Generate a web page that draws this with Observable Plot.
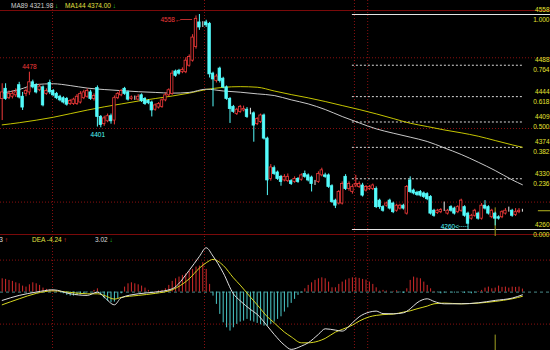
<!DOCTYPE html>
<html><head><meta charset="utf-8">
<script src="https://cdn.jsdelivr.net/npm/d3@7"></script>
<script src="https://cdn.jsdelivr.net/npm/@observablehq/plot@0.6"></script>
<style>
html,body{margin:0;padding:0;background:#000;}
#wrap{position:relative;width:550px;height:350px;overflow:hidden;background:#000;font-family:"Liberation Sans",Arial,sans-serif;}
.pane{position:absolute;left:0;}
.sep{position:absolute;left:0;width:550px;height:1px;background:#7a0a0a;}
.hdr{position:absolute;font-size:6.5px;line-height:1;white-space:nowrap;}
</style></head><body><div id="wrap">
<div class="sep" style="top:10px"></div>
<div class="sep" style="top:234px"></div>
<div id="p1" class="pane" style="top:0"></div>
<div id="p2" class="pane" style="top:236px"></div>
</div>
<script>
// ---------- data ----------
const opens = [4441,4455,4442,4444,4446,4460,4444,4448,4450,4464,
4460,4453,4457,4448,4463,4452,4448,4444,4442,4441,
4434,4434,4434,4436,4442,4444,4450,4441,4456,4416,
4406,4410,4417,4411,4442,4446,4455,4450,4441,4442,
4440,4446,4441,4438,4436,4426,4429,4430,4439,4446,
4448,4479,4480,4478,4478,4487,4494,4513,4547,4544,
4547,4545,4476,4466,4483,4469,4457,4441,4430,4420,
4423,4425,4426,4422,4421,4406,4409,4418,4386,4330,
4345,4339,4333,4328,4327,4327,4326,4330,4329,4337,
4335,4332,4324,4326,4335,4335,4335,4320,4300,4296,
4296,4333,4316,4312,4321,4319,4321,4314,4316,4316,
4316,4300,4291,4293,4300,4296,4286,4289,4293,4282,
4328,4314,4311,4312,4310,4309,4305,4286,4283,4284,
4287,4282,4291,4289,4284,4286,4291,4282,4275,4279,
4282,4275,4293,4291,4277,4282,4277,4277,4282,4286,
4286,4280,4284,4286];
const closes = [4450,4441,4448,4448,4450,4443,4429,4452,4464,4457,
4450,4458,4432,4452,4450,4446,4442,4439,4436,4433,
4438,4440,4444,4448,4450,4452,4441,4445,4416,4405,
4414,4417,4410,4442,4448,4452,4448,4440,4443,4442,
4444,4438,4434,4435,4425,4432,4434,4439,4446,4453,
4476,4473,4476,4481,4494,4499,4526,4552,4540,4544,
4543,4475,4468,4472,4466,4457,4441,4427,4423,4426,
4430,4427,4416,4422,4404,4413,4418,4386,4328,4346,
4337,4330,4326,4333,4333,4323,4330,4326,4335,4333,
4328,4323,4324,4337,4342,4333,4319,4298,4293,4312,
4323,4316,4323,4319,4323,4323,4307,4319,4319,4321,
4291,4291,4286,4296,4289,4284,4293,4293,4289,4319,
4312,4310,4308,4307,4305,4302,4282,4279,4286,4287,
4287,4286,4286,4282,4291,4300,4279,4268,4279,4286,
4275,4293,4289,4282,4286,4275,4275,4284,4286,4286,
4279,4284,4286,4286];
const highs = [4462,4462,4452,4452,4455,4464,4450,4455,4478,4467,
4462,4461,4459,4455,4467,4454,4450,4446,4444,4443,
4440,4442,4447,4451,4453,4455,4453,4448,4459,4418,
4417,4420,4420,4445,4450,4454,4457,4452,4445,4445,
4447,4448,4443,4440,4438,4434,4436,4441,4449,4455,
4480,4481,4482,4484,4498,4502,4530,4556,4558,4548,
4550,4547,4478,4475,4485,4471,4459,4443,4432,4428,
4432,4431,4429,4428,4423,4415,4420,4420,4388,4350,
4348,4341,4335,4336,4337,4329,4333,4332,4337,4341,
4337,4334,4328,4340,4345,4338,4337,4322,4302,4314,
4326,4336,4326,4322,4335,4326,4324,4321,4321,4323,
4319,4302,4293,4298,4302,4298,4295,4295,4295,4321,
4333,4316,4313,4314,4312,4311,4307,4288,4288,4289,
4298,4288,4293,4291,4293,4302,4293,4284,4281,4288,
4284,4296,4300,4293,4288,4284,4279,4286,4289,4291,
4288,4289,4289,4288];
const lows = [4411,4439,4440,4441,4443,4441,4425,4444,4446,4455,
4448,4451,4430,4446,4447,4444,4440,4437,4434,4431,
4432,4432,4432,4434,4440,4442,4439,4438,4402,4401,
4403,4408,4406,4405,4440,4444,4446,4438,4439,4439,
4438,4436,4432,4433,4416,4424,4427,4428,4437,4444,
4446,4471,4474,4476,4476,4485,4492,4510,4536,4540,
4540,4470,4430,4463,4463,4455,4439,4407,4421,4418,
4421,4423,4414,4419,4381,4404,4407,4384,4307,4327,
4335,4328,4320,4326,4325,4321,4324,4324,4327,4331,
4326,4312,4321,4324,4333,4331,4317,4296,4289,4294,
4294,4314,4313,4309,4318,4317,4305,4312,4314,4314,
4289,4288,4284,4291,4287,4282,4284,4287,4287,4280,
4310,4308,4306,4305,4303,4300,4280,4277,4281,4282,
4285,4280,4284,4280,4282,4284,4277,4260,4273,4277,
4273,4273,4287,4280,4275,4265,4273,4275,4280,4284,
4277,4278,4282,4284];

// moving averages, read at every 5th candle
const maIdx = [0,5,10,15,20,25,30,35,40,45,50,55,60,65,70,75,80,85,90,95,100,105,110,115,120,125,130,135,140,145,150,153];
const ma89 = [4449,4454,4461,4462,4459.5,4456,4454,4452.5,4451,4450,4449,4450,4454.5,4452,4450.3,4448,4445.7,4439.7,4434.1,4426.3,4416.6,4407.8,4399.5,4393.5,4388,4382,4373.2,4364,4353.3,4341.7,4328.8,4322];
const ma144 = [4405,4408,4411.5,4415.5,4420.5,4425.5,4430,4434,4438,4441.5,4445,4449,4454,4457,4458,4457.2,4452,4447,4442.5,4437.4,4431.8,4426.3,4420.3,4413.8,4407.3,4402.7,4398,4394,4389.3,4383.3,4377.3,4374];

// MACD
const macdIdx = [0,5,10,15,20,25,28,30,33,35,40,45,50,55,58,60,62,65,68,70,73,75,78,80,83,85,88,90,93,95,98,100,103,105,108,110,112,115,118,120,122,125,127,130,135,140,145,150,153];
const dif = [-8.3,-3.3,0,2.3,-1.7,-3.3,0,-5,-12.7,-5.7,-1.7,0,3.3,21.7,35.7,44.3,36,19.3,-1.7,-8.7,-17.3,-22.3,-34,-42.3,-53,-57.3,-54,-50.7,-42.3,-36.7,-38,-39,-30.7,-24.7,-20,-19,-21.5,-21.7,-20.7,-16.7,-10.7,-6.7,-9.3,-11.7,-11.7,-10.7,-8.3,-6,-2.73];
const dea = [-12.7,-6.7,-1.3,1.3,-0.3,-1.7,-1.7,-3.3,-7,-5.3,-3.3,-1.3,2.3,13.3,24,29.3,32.7,26.7,14.3,7,-5,-12.7,-24.7,-30.7,-40,-44.7,-50.7,-50.7,-49,-46.3,-40,-37.3,-33,-29,-24.7,-23.3,-22.5,-22,-20,-18.7,-16.7,-14,-11.7,-11,-11.7,-11,-9.3,-6.7,-4.24];
const macdBars = [13.3,12.7,11.7,10.7,9.3,8.3,6,5,7.3,9.3,
8.3,6.7,4,2.7,2.3,1.7,1,0,-1.7,-3.3,
-4,-4,-3.3,-2.7,-1.7,-0.7,0,1.7,3.3,-3.3,
-6.7,-9.3,-10.7,-10,-6.7,-1.7,5,8.3,9.3,8.3,
7.3,6,4,1.7,0,0.7,1.3,1.7,3.3,6.7,
10.7,13.3,15,16.7,18.3,20.7,22.7,25,26,29.3,
22.7,7.7,-4,-12.3,-22.3,-30.7,-35.7,-39,-35.7,-32.3,
-30,-29,-27.3,-29,-30,-31.3,-32.7,-34,-34,-32.3,
-30,-27.3,-24.7,-20,-15.7,-11.3,-7.3,-3.3,-0.7,3.3,
6.7,9.3,11.7,13.3,14.3,13.3,10,4.3,4.3,7.7,
10,12,13.3,14.3,14.3,13.7,12.7,12,10,7.7,
4.3,1,1.7,1,0,0.7,1.3,-0.7,-1.3,3.3,
11.7,15,14,13.3,10,6.7,3.3,0.7,-0.7,-1.7,
-1,0,-0.7,-1,0,-0.3,-1.3,-0.7,-1.7,-0.7,
0.7,1.7,4,5,3.3,4,6,4.7,5,4,
5,4.7,5,3.02];

const fibRatios = [1, 0.764, 0.618, 0.5, 0.382, 0.236, 0];
const gridPrices = [4498, 4400, 4298];
const macdGrid = [32, -32];
const periodBreaks = [14.8, 59.5, 103.6, 107.5];
const fibStart = 103, fibEnd = 153.5;
const cursorIdx = 145;
const localMarks = [{i: 8, kind: "high"}, {i: 29, kind: "low"}];
const headerMA = [{name: "MA89", value: "4321.98", arrow: "↓"}, {name: "MA144", value: "4374.00", arrow: "↓"}];
const headerMACD = [{name: "DIF", value: "-2.73", arrow: "↑"}, {name: "DEA", value: "-4.24", arrow: "↑"}, {name: "", value: "3.02", arrow: "↓"}];

// ---------- style ----------
const UP = "#f03a3a", DN = "#54fcfc", FLAT = "#e8e8e8", GRID = "#8a1010";
const FIBC = "#e4e430", FONT = "Liberation Sans, Arial, sans-serif";
const STEP = 3.4;
const xDomain = [-0.5, -0.5 + 550 / STEP];

const candles = opens.map((o, i) => ({i, o, c: closes[i], h: highs[i], l: lows[i]}));
const colorOf = d => d.c > d.o ? UP : d.c < d.o ? DN : FLAT;
const hiIdx = d3.maxIndex(highs), loIdx = d3.minIndex(lows);
const fibHigh = highs[hiIdx], fibLow = lows[loIdx];
const fibs = fibRatios.map(r => ({r, p: fibLow + r * (fibHigh - fibLow)}));
const ma89Pts = maIdx.map((i, k) => ({i, v: ma89[k]}));
const ma144Pts = maIdx.map((i, k) => ({i, v: ma144[k]}));
const lastClose = closes[closes.length - 1];

const price = Plot.plot({
  width: 550, height: 236, margin: 0,
  x: {domain: xDomain, axis: null},
  y: {domain: [4250.3, 4577.4], axis: null},
  style: {background: "transparent", overflow: "visible"},
  marks: [
    Plot.ruleY(gridPrices, {stroke: GRID, strokeDasharray: "1,2"}),
    Plot.ruleX(periodBreaks, {stroke: GRID, strokeDasharray: "1,2"}),
    Plot.ruleY(fibs.filter(f => f.r > 0 && f.r < 1), {y: "p", x1: fibStart, x2: fibEnd, stroke: "#d8d8d8", strokeDasharray: "2,2"}),
    Plot.ruleY(fibs.filter(f => f.r === 0 || f.r === 1), {y: "p", x1: fibStart, x2: xDomain[1], stroke: "#e4e4e4", strokeWidth: 1.2}),
    Plot.ruleY([lastClose], {x1: 157.7, x2: xDomain[1], stroke: "#b8b820"}),
    Plot.ruleX([cursorIdx], {y1: 4290, y2: 4250.3, stroke: "#a0a020"}),
    Plot.line(ma144Pts, {x: "i", y: "v", stroke: "#c4c400", strokeWidth: 1, curve: "monotone-x"}),
    Plot.line(ma89Pts, {x: "i", y: "v", stroke: "#c8c8c8", strokeWidth: 1, curve: "monotone-x"}),
    Plot.ruleX(candles, {x: "i", y1: "l", y2: "h", stroke: colorOf, strokeWidth: 1}),
    Plot.rect(candles, {x1: d => d.i - 0.36, x2: d => d.i + 0.36, y1: d => Math.min(d.o, d.c), y2: d => Math.max(d.o, d.c),
      fill: d => d.c > d.o ? "#000" : colorOf(d), stroke: colorOf, strokeWidth: 0.8}),
    Plot.text(localMarks.filter(m => m.kind === "high"), {x: "i", y: m => highs[m.i], text: m => String(highs[m.i]), fill: UP, dy: -5, fontSize: 6.5, fontFamily: FONT}),
    Plot.text(localMarks.filter(m => m.kind === "low"), {x: "i", y: m => lows[m.i], text: m => String(lows[m.i]), fill: DN, dy: 7, dx: -3, fontSize: 6.5, fontFamily: FONT}),
    Plot.text([hiIdx], {x: d => d, y: d => highs[d], text: d => highs[d] + "←", fill: UP, textAnchor: "end", dx: -18, dy: 5, fontSize: 6.5, fontFamily: FONT}),
    Plot.ruleY([hiIdx], {y: d => highs[d], x1: d => d - 5.5, x2: d => d - 2, dy: 5, stroke: UP, strokeWidth: 0.8}),
    Plot.text([loIdx], {x: d => d, y: d => lows[d], text: d => lows[d] + "<", fill: DN, textAnchor: "end", dx: -9, dy: -3, fontSize: 6.5, fontFamily: FONT}),
    Plot.ruleY([loIdx], {y: d => lows[d], x1: d => d - 2.6, x2: d => d, dy: -3, stroke: DN, strokeWidth: 0.8, strokeDasharray: "1,1"}),
    Plot.text(fibs, {y: "p", text: f => f.p.toFixed(0), frameAnchor: "right", textAnchor: "end", dx: -1, dy: -5, fill: FIBC, fontSize: 6.5, fontFamily: FONT}),
    Plot.text(fibs, {y: "p", text: f => f.r.toFixed(3), frameAnchor: "right", textAnchor: "end", dx: -1, dy: 5, fill: FIBC, fontSize: 6.5, fontFamily: FONT})
  ]
});
document.getElementById("p1").appendChild(price);

const bars = macdBars.map((v, i) => ({i, v}));
const difPts = macdIdx.map((i, k) => ({i, v: dif[k]}));
const deaPts = macdIdx.map((i, k) => ({i, v: dea[k]}));
const macd = Plot.plot({
  width: 550, height: 114, margin: 0,
  x: {domain: xDomain, axis: null},
  y: {domain: [-58.4, 55.6], axis: null},
  style: {background: "transparent", overflow: "visible"},
  marks: [
    Plot.ruleY(macdGrid, {stroke: GRID, strokeDasharray: "1,2"}),
    Plot.ruleX(periodBreaks, {stroke: GRID, strokeDasharray: "1,2"}),
    Plot.ruleY([0], {stroke: "#4a8a8a", strokeDasharray: "3,3"}),
    Plot.ruleX([cursorIdx], {y1: -43, y2: -58.4, stroke: "#a0a020"}),
    Plot.ruleX(bars.filter(b => b.v !== 0), {x: "i", y1: 0, y2: "v", stroke: b => b.v > 0 ? "#d42a2a" : "#4ccaca", strokeWidth: 1}),
    Plot.line(deaPts, {x: "i", y: "v", stroke: "#d8d820", strokeWidth: 1, curve: "monotone-x"}),
    Plot.line(difPts, {x: "i", y: "v", stroke: "#e0e0e0", strokeWidth: 1, curve: "monotone-x"})
  ]
});
document.getElementById("p2").appendChild(macd);

// ---------- header texts ----------
const wrap = document.getElementById("wrap");
function addHdr(left, top, parts, anchorRight) {
  const d = document.createElement("div");
  d.className = "hdr";
  d.style.top = top + "px";
  if (anchorRight) { d.style.right = (550 - left) + "px"; } else { d.style.left = left + "px"; }
  parts.forEach(([t, c]) => { const s = document.createElement("span"); s.textContent = t; s.style.color = c; d.appendChild(s); });
  wrap.appendChild(d);
}
addHdr(11, 3, [[headerMA[0].name + " " + headerMA[0].value + " ", "#d0d0d0"], [headerMA[0].arrow, "#20c020"]]);
addHdr(65, 3, [[headerMA[1].name + " " + headerMA[1].value + " ", "#e0e040"], [headerMA[1].arrow, "#20c020"]]);
addHdr(8, 237, [[headerMACD[0].name + " " + headerMACD[0].value + " ", "#e0e0e0"], [headerMACD[0].arrow, "#f03030"]], true);
addHdr(32, 237, [[headerMACD[1].name + " " + headerMACD[1].value + " ", "#e0e040"], [headerMACD[1].arrow, "#f03030"]]);
addHdr(95, 237, [[headerMACD[2].value + " ", "#d8d8d8"], [headerMACD[2].arrow, "#20c020"]]);
</script>
</body></html>
